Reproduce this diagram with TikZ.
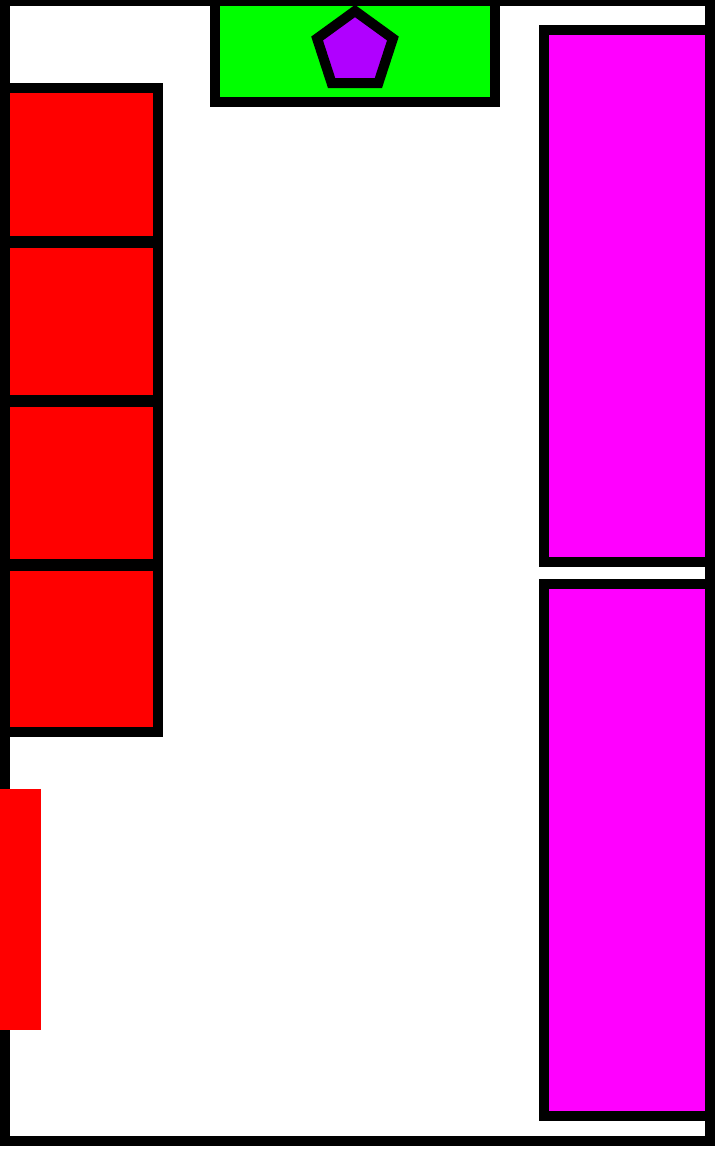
\documentclass[tikz,border=0pt]{standalone}
\definecolor{cred}{RGB}{255,0,0}
\definecolor{cgreen}{RGB}{0,255,0}
\definecolor{cmag}{RGB}{255,0,255}
\definecolor{cpurple}{RGB}{176,0,255}
\begin{document}
\begin{tikzpicture}[x=1pt,y=-1pt,
  wall/.style={draw=black,line width=10pt},
  redbox/.style={wall,fill=cred},
  magbox/.style={wall,fill=cmag},
  greenbox/.style={wall,fill=cgreen},
  penta/.style={draw=black,line width=10pt,fill=cpurple,line join=miter}]
\useasboundingbox (0,0) rectangle (726,1152);
% outer wall
\draw[wall] (5,1) rectangle (710,1141);
% green box with pentagon
\draw[greenbox] (215,1) rectangle (495,102);
\draw[penta] (355,11) -- (392.9,38.5) -- (378.4,83) -- (331.6,83) -- (317.1,38.5) -- cycle;
% red boxes
\draw[redbox] (5,88) rectangle (158,240.7);
\draw[redbox] (5,243.3) rectangle (158,400);
\draw[redbox] (5,402.3) rectangle (158,564);
\draw[redbox] (5,566) rectangle (158,732);
% red strip
\fill[cred] (0,789) rectangle (41,1030);
% magenta boxes
\draw[magbox] (544,30) rectangle (710,562);
\draw[magbox] (544,584) rectangle (710,1116);
\end{tikzpicture}
\end{document}
